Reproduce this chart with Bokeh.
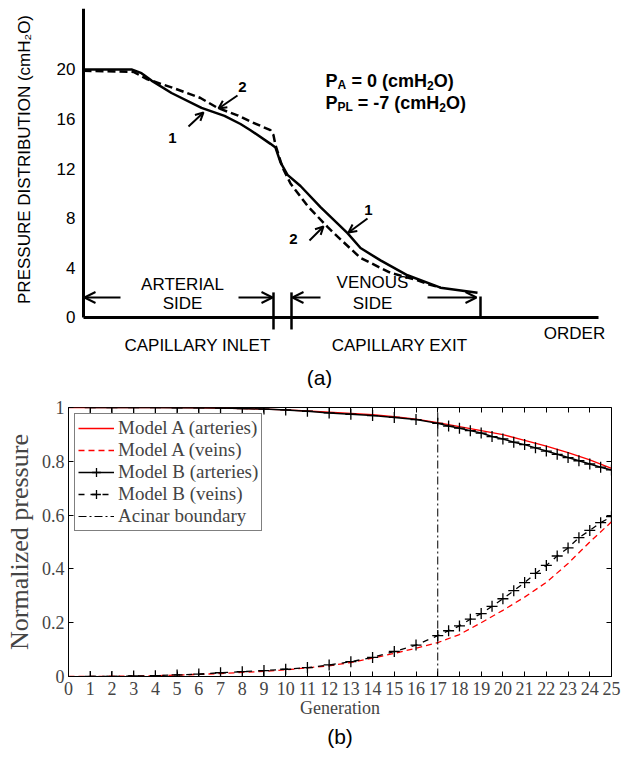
import math
from bokeh.plotting import figure
from bokeh.models import (Range1d, LinearAxis, FixedTicker, Label, Arrow, OpenHead,
                          Legend, LegendItem, Title)
from bokeh.core.properties import value
from bokeh.layouts import column
from bokeh.embed import file_html
from bokeh.resources import INLINE

# ---------------- Panel (a) data ----------------
order_1 = [0, 4.8, 5.8, 6.8, 8.8, 11.8, 14.1, 15.7, 16.7, 18.7, 19.2, 19.7, 20.4, 21.7,
           23.7, 26.4, 27.7, 29.7, 32.4, 35.7, 39.4]
pressure_1 = [20.0, 20.0, 19.7, 19.1, 18.1, 16.9, 16.25, 15.6, 15.1, 14.0, 13.7, 12.5, 11.5,
              10.6, 8.9, 6.8, 5.6, 4.6, 3.4, 2.4, 2.0]
order_2 = [0, 5.0, 6.4, 9.0, 11.7, 13.4, 15.4, 16.7, 18.7, 19.0, 19.2, 19.9, 20.7, 22.4,
           24.4, 25.7, 27.7, 30.7, 33.4, 34.4, 35.7]
pressure_2 = [19.9, 19.8, 19.2, 18.5, 17.7, 16.9, 16.3, 15.8, 15.1, 14.7, 13.9, 12.1, 10.8,
              9.0, 7.3, 6.3, 4.8, 3.6, 3.0, 2.7, 2.4]
pressure_ticks = [0, 4, 8, 12, 16, 20]
pressure_axis_top = 24.9
order_axis_end = 51.5

# ---------------- Panel (b) data ----------------
generation_A = list(range(0, 26))
modelA_arteries = [1.0, 1.0, 1.0, 1.0, 1.0, 1.0, 0.999, 0.998, 0.996, 0.994, 0.991, 0.987,
                   0.983, 0.978, 0.973, 0.966, 0.957, 0.944, 0.929, 0.914, 0.899, 0.878,
                   0.856, 0.832, 0.805, 0.774]
modelA_veins = [0.0, 0.0, 0.001, 0.002, 0.003, 0.005, 0.008, 0.011, 0.015, 0.019, 0.025,
                0.032, 0.040, 0.052, 0.068, 0.086, 0.105, 0.126, 0.156, 0.200, 0.246,
                0.295, 0.350, 0.420, 0.500, 0.575]
generation_B = [1, 2, 3, 4, 5, 6, 7, 8, 9, 10, 11, 12, 13, 14, 15, 16, 17, 17.5, 18, 18.5,
                19, 19.5, 20, 20.5, 21, 21.5, 22, 22.5, 23, 23.5, 24, 24.5, 25]
modelB_arteries = [1.0, 1.0, 1.0, 1.0, 0.999, 0.999, 0.998, 0.996, 0.994, 0.991, 0.986,
                   0.980, 0.975, 0.970, 0.963, 0.955, 0.941, 0.931, 0.923, 0.914, 0.905,
                   0.892, 0.883, 0.871, 0.862, 0.850, 0.838, 0.826, 0.814, 0.802, 0.790,
                   0.778, 0.768]
modelB_veins = [0.0, 0.0, 0.002, 0.003, 0.006, 0.009, 0.014, 0.018, 0.022, 0.027, 0.033,
                0.043, 0.055, 0.071, 0.093, 0.117, 0.152, 0.170, 0.188, 0.213, 0.234,
                0.261, 0.289, 0.319, 0.349, 0.383, 0.413, 0.448, 0.478, 0.516, 0.543,
                0.572, 0.594]
acinar_generation = [17, 17]
acinar_span = [0, 1]
generation_ticks = list(range(0, 26))
normalized_ticks = [0, 0.2, 0.4, 0.6, 0.8, 1]

SANS = "Liberation Sans"
SERIF = "Liberation Serif"

# =============== Panel (a) ===============
pa = figure(width=621, height=388, x_range=Range1d(-8.3, 53.8), y_range=Range1d(-5.73, 25.56),
            output_backend="svg", toolbar_location=None, x_axis_type=None, y_axis_type=None,
            min_border_left=0, min_border_right=0, min_border_top=0, min_border_bottom=0)
pa.outline_line_color = None

# axis lines and tick labels of the sketch
pa.line([0, 0], [0, pressure_axis_top], line_color="black", line_width=3)
pa.line([0, order_axis_end], [0, 0], line_color="black", line_width=3)
pa.text(x=[0] * len(pressure_ticks), y=pressure_ticks,
        text=[str(t) for t in pressure_ticks], x_offset=-8, text_align="right",
        text_baseline="middle", text_font=value(SANS), text_font_size=value("17px"),
        text_color="black")

pa.line(order_1, pressure_1, line_color="black", line_width=2.5, line_join="round")
pa.line(order_2, pressure_2, line_color="black", line_width=2.5, line_dash="8 4",
        line_join="round")


def lab(p, x, y, text, size, font=SANS, style="normal", align="center", baseline="middle",
        angle=0.0):
    p.add_layout(Label(x=x, y=y, text=text, text_font=font, text_font_size=size,
                       text_font_style=style, text_align=align, text_baseline=baseline,
                       text_color="black", angle=angle))


def arrow(p, x0, y0, x1, y1, head=8, width=2.0):
    end = OpenHead(size=head, line_width=width, line_color="black") if head else None
    p.add_layout(Arrow(end=end, start=None, x_start=x0, y_start=y0, x_end=x1, y_end=y1,
                       line_width=width, line_color="black"))


lab(pa, -5.95, 12.74, "PRESSURE DISTRIBUTION (cmH₂O)", "17px", angle=math.pi / 2)

# P_A and P_PL texts with subscripts
for txt, x, y, sz in [("P", 24.2, 19.03, "18px"), ("A", 25.4, 18.71, "12px"),
                      ("= 0 (cmH", 26.8, 19.03, "18px"), ("2", 34.35, 18.71, "12px"),
                      ("O)", 35.02, 19.03, "18px"),
                      ("P", 24.2, 17.26, "18px"), ("PL", 25.4, 16.94, "12px"),
                      ("= -7 (cmH", 27.43, 17.26, "18px"), ("2", 35.58, 16.94, "12px"),
                      ("O)", 36.25, 17.26, "18px")]:
    lab(pa, x, y, txt, sz, style="bold", align="left", baseline="alphabetic")

# curve numbers and arrows
lab(pa, 15.9, 18.55, "2", "15px", style="bold")
lab(pa, 8.9, 14.44, "1", "15px", style="bold")
lab(pa, 28.5, 8.63, "1", "15px", style="bold")
lab(pa, 21.0, 6.29, "2", "15px", style="bold")
arrow(pa, 15.4, 17.9, 13.5, 16.85)
arrow(pa, 10.5, 15.4, 12.0, 16.53)
arrow(pa, 28.4, 7.98, 26.5, 6.85)
arrow(pa, 22.6, 6.21, 24.0, 7.34)

# side arrows and capillary markers
arrow(pa, 3.7, 1.61, 0.1, 1.61, head=11)
arrow(pa, 15.5, 1.61, 18.9, 1.61, head=11)
arrow(pa, 23.7, 1.61, 20.9, 1.61, head=11)
arrow(pa, 34.4, 1.61, 39.3, 1.61, head=11)
arrow(pa, 19.0, 2.02, 19.0, -0.97, head=0, width=2.5)
arrow(pa, 20.8, 2.02, 20.8, -0.97, head=0, width=2.5)
arrow(pa, 39.7, 1.69, 39.7, 0.0, head=0, width=2.5)

lab(pa, 9.9, 2.66, "ARTERIAL", "17px")
lab(pa, 9.9, 1.13, "SIDE", "17px")
lab(pa, 28.9, 2.82, "VENOUS", "17px")
lab(pa, 28.9, 1.13, "SIDE", "17px")
lab(pa, 11.4, -2.26, "CAPILLARY INLET", "17px")
lab(pa, 31.6, -2.26, "CAPILLARY EXIT", "17px")
lab(pa, 49.1, -1.29, "ORDER", "17px")
lab(pa, 23.6, -4.84, "(a)", "21px")

# =============== Panel (b) ===============
pb = figure(width=621, height=361, x_range=Range1d(0, 25), y_range=Range1d(0, 1),
            output_backend="svg", toolbar_location=None, x_axis_type=None, y_axis_type=None,
            min_border_left=68, min_border_right=10, min_border_top=19, min_border_bottom=0)
pb.outline_line_color = "black"

for p in (pa, pb):
    try:
        p.frame_align = False
    except Exception:
        pass


def mk_axis(ticks, show, fixed=None):
    ax = LinearAxis(ticker=FixedTicker(ticks=ticks), fixed_location=fixed)
    ax.major_tick_in = 5
    ax.major_tick_out = 0
    ax.minor_tick_line_color = None
    ax.axis_line_color = "black"
    ax.major_tick_line_color = "black"
    ax.major_label_text_font = SERIF
    ax.major_label_text_font_size = "18px"
    if not show:
        ax.major_label_text_color = None
    return ax


xb = mk_axis(generation_ticks, True)
xb.axis_label = "Generation"
xb.axis_label_text_font = SERIF
xb.axis_label_text_font_size = "18px"
xb.axis_label_text_font_style = "normal"
xb.axis_label_standoff = 0
xb.major_label_standoff = 5
pb.add_layout(xb, "below")

yb = mk_axis(normalized_ticks, True)
yb.major_label_overrides = {0: "0", 1: "1"}
yb.major_label_standoff = 4
yb.axis_label = "Normalized pressure"
yb.axis_label_text_font = SERIF
yb.axis_label_text_font_size = "26px"
yb.axis_label_text_font_style = "normal"
yb.axis_label_standoff = 5
pb.add_layout(yb, "left")

pb.add_layout(mk_axis(generation_ticks, False, fixed=1), "above")
pb.add_layout(mk_axis(normalized_ticks, False, fixed=25), "right")

r_aa = pb.line(generation_A, modelA_arteries, line_color="#ff0000", line_width=1.3)
r_av = pb.line(generation_A, modelA_veins, line_color="#ff0000", line_width=1.3,
               line_dash="6 4")
r_ba = pb.line(generation_B, modelB_arteries, line_color="black", line_width=1.5)
s_ba = pb.scatter(generation_B, modelB_arteries, marker="cross", size=11,
                  line_color="black", line_width=1.3)
r_bv = pb.line(generation_B, modelB_veins, line_color="black", line_width=1.3,
               line_dash="6 6")
s_bv = pb.scatter(generation_B, modelB_veins, marker="cross", size=11,
                  line_color="black", line_width=1.3)
r_ac = pb.line(acinar_generation, acinar_span, line_color="black", line_width=1,
               line_dash="8 3 2 3")

legend = Legend(items=[
    LegendItem(label="Model A (arteries)", renderers=[r_aa]),
    LegendItem(label="Model A (veins)", renderers=[r_av]),
    LegendItem(label="Model B (arteries)", renderers=[r_ba, s_ba]),
    LegendItem(label="Model B (veins)", renderers=[r_bv, s_bv]),
    LegendItem(label="Acinar boundary", renderers=[r_ac]),
], location="top_left")
legend.margin = 6
legend.padding = 3
legend.spacing = 0
legend.glyph_width = 36
legend.glyph_height = 22
legend.label_height = 22
legend.label_standoff = 4
legend.label_text_font = SERIF
legend.label_text_font_size = "19px"
legend.border_line_color = "black"
legend.border_line_width = 1
legend.background_fill_alpha = 1
pb.add_layout(legend)

pb.add_layout(Title(text="(b)", align="center", offset=-20, standoff=4, text_font=SANS,
                    text_font_size="21px", text_font_style="normal", text_color="black"),
              "below")

layout = column(pa, pb)
open("out.html", "w").write(file_html(layout, INLINE))
